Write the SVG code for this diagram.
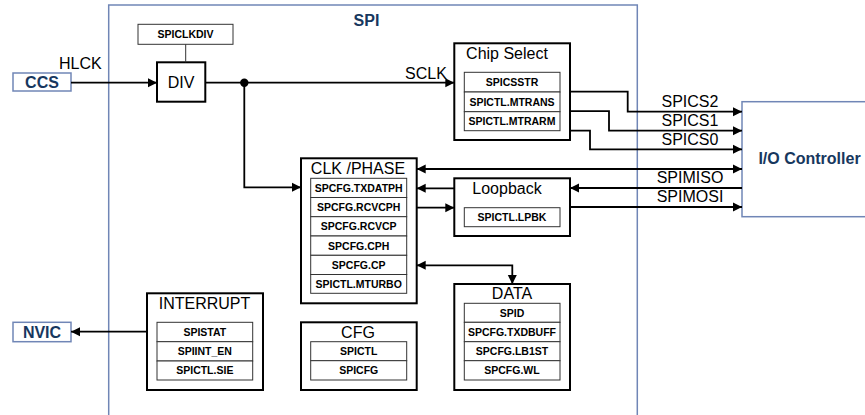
<svg xmlns="http://www.w3.org/2000/svg" width="865" height="415" viewBox="0 0 865 415">
<style>
  .outer{fill:#fff;stroke:#000;stroke-width:2}
  .cell{fill:#fff;stroke:#333;stroke-width:1}
  .ext{fill:#fff;stroke:#7086b6;stroke-width:1.5}
  .spi{fill:none;stroke:#7086b6;stroke-width:1.5}
  .title{font-family:"Liberation Sans",Arial,sans-serif;font-size:16px;fill:#000;text-anchor:middle}
  .reg{font-family:"Liberation Sans",Arial,sans-serif;font-size:10.5px;font-weight:bold;fill:#000;text-anchor:middle}
  .lbl{font-family:"Liberation Sans",Arial,sans-serif;font-size:16px;fill:#000}
  .blue{font-family:"Liberation Sans",Arial,sans-serif;font-size:16px;font-weight:bold;fill:#17375e;text-anchor:middle}
  .wire{fill:none;stroke:#000;stroke-width:1.8}
  .thin{fill:none;stroke:#333;stroke-width:1}
</style>
<defs>
  <marker id="ah" markerUnits="userSpaceOnUse" markerWidth="10" markerHeight="10" viewBox="0 0 10 10" refX="9" refY="5" orient="auto-start-reverse">
    <path d="M0,0.5 L9,5 L0,9.5 Z" fill="#000"/>
  </marker>
</defs>

<rect id="spi-box" class="spi" x="108.7" y="5" width="528.6" height="430"/>
<text class="blue" x="366.5" y="25.7">SPI</text>

<g id="ccs">
  <rect class="ext" x="13" y="73" width="58" height="18"/>
  <text class="blue" x="42" y="88">CCS</text>
</g>
<g id="nvic">
  <rect class="ext" x="13" y="322.3" width="58" height="19.4"/>
  <text class="blue" x="42" y="337.8">NVIC</text>
</g>
<g id="io-controller">
  <rect class="ext" x="742" y="101.7" width="140" height="115"/>
  <text class="blue" x="809.5" y="164">I/O Controller</text>
</g>

<g id="spiclkdiv">
  <rect class="cell" x="138" y="24.3" width="95" height="20"/>
  <text class="reg" x="185.5" y="38">SPICLKDIV</text>
</g>
<g id="div">
  <rect class="outer" x="157" y="62.3" width="48.3" height="39.4"/>
  <text class="title" x="181" y="88.3">DIV</text>
</g>

<g id="chip-select">
  <rect class="outer" x="454.3" y="43.3" width="115.7" height="96.7"/>
  <text class="title" x="507" y="59">Chip Select</text>
  <rect class="cell" x="464.3" y="72.3" width="95.7" height="19.7"/>
  <rect class="cell" x="464.3" y="92" width="95.7" height="19.7"/>
  <rect class="cell" x="464.3" y="111.7" width="95.7" height="19"/>
  <text class="reg" x="512" y="86">SPICSSTR</text>
  <text class="reg" x="512" y="105.6">SPICTL.MTRANS</text>
  <text class="reg" x="512" y="125">SPICTL.MTRARM</text>
</g>

<g id="clk-phase">
  <rect class="outer" x="301" y="158.3" width="115.7" height="145"/>
  <text class="title" x="358" y="174.3">CLK /PHASE</text>
  <rect class="cell" x="310.7" y="178.3" width="96" height="19.2"/>
  <rect class="cell" x="310.7" y="197.5" width="96" height="19.2"/>
  <rect class="cell" x="310.7" y="216.7" width="96" height="19.3"/>
  <rect class="cell" x="310.7" y="236" width="96" height="19.3"/>
  <rect class="cell" x="310.7" y="255.3" width="96" height="19.2"/>
  <rect class="cell" x="310.7" y="274.5" width="96" height="18.8"/>
  <text class="reg" x="358.7" y="191.7">SPCFG.TXDATPH</text>
  <text class="reg" x="358.7" y="210.9">SPCFG.RCVCPH</text>
  <text class="reg" x="358.7" y="230.2">SPCFG.RCVCP</text>
  <text class="reg" x="358.7" y="249.5">SPCFG.CPH</text>
  <text class="reg" x="358.7" y="268.7">SPCFG.CP</text>
  <text class="reg" x="358.7" y="287.7">SPICTL.MTURBO</text>
</g>

<g id="loopback">
  <rect class="outer" x="454.3" y="178.3" width="115.7" height="57.7"/>
  <text class="title" x="507" y="194">Loopback</text>
  <rect class="cell" x="464.3" y="207.7" width="95.7" height="19"/>
  <text class="reg" x="512" y="221">SPICTL.LPBK</text>
</g>

<g id="data">
  <rect class="outer" x="454.3" y="284" width="115.7" height="106"/>
  <text class="title" x="512" y="299">DATA</text>
  <rect class="cell" x="464.3" y="303.3" width="95.7" height="19"/>
  <rect class="cell" x="464.3" y="322.3" width="95.7" height="19.4"/>
  <rect class="cell" x="464.3" y="341.7" width="95.7" height="19"/>
  <rect class="cell" x="464.3" y="360.7" width="95.7" height="19.3"/>
  <text class="reg" x="512" y="316.6">SPID</text>
  <text class="reg" x="512" y="335.8">SPCFG.TXDBUFF</text>
  <text class="reg" x="512" y="355">SPCFG.LB1ST</text>
  <text class="reg" x="512" y="374.2">SPCFG.WL</text>
</g>

<g id="cfg">
  <rect class="outer" x="301" y="322.3" width="115.7" height="67.7"/>
  <text class="title" x="358" y="338.3">CFG</text>
  <rect class="cell" x="310.7" y="341.7" width="96" height="19"/>
  <rect class="cell" x="310.7" y="360.7" width="96" height="19.3"/>
  <text class="reg" x="358.7" y="355">SPICTL</text>
  <text class="reg" x="358.7" y="374.2">SPICFG</text>
</g>

<g id="interrupt">
  <rect class="outer" x="147" y="293.3" width="116" height="96.7"/>
  <text class="title" x="204.5" y="308.5">INTERRUPT</text>
  <rect class="cell" x="157" y="322.3" width="95.7" height="19.4"/>
  <rect class="cell" x="157" y="341.7" width="95.7" height="19.3"/>
  <rect class="cell" x="157" y="361" width="95.7" height="19"/>
  <text class="reg" x="204.8" y="335.8">SPISTAT</text>
  <text class="reg" x="204.8" y="355.1">SPIINT_EN</text>
  <text class="reg" x="204.8" y="374.3">SPICTL.SIE</text>
</g>

<g id="connectors">
  <line class="thin" x1="185.7" y1="44.3" x2="185.7" y2="62.3"/>
  <line class="wire" x1="71" y1="82.7" x2="157" y2="82.7" marker-end="url(#ah)"/>
  <line class="wire" x1="205.3" y1="82.7" x2="454.3" y2="82.7" marker-end="url(#ah)"/>
  <circle cx="244.3" cy="82.7" r="4.2" fill="#000"/>
  <polyline class="wire" points="244.3,82.7 244.3,187.3 301,187.3" marker-end="url(#ah)"/>
  <polyline class="wire" points="570,91.7 627.7,91.7 627.7,111.7 742,111.7" marker-end="url(#ah)"/>
  <polyline class="wire" points="570,111.2 609,111.2 609,130.7 742,130.7" marker-end="url(#ah)"/>
  <polyline class="wire" points="570,130.7 590,130.7 590,149.3 742,149.3" marker-end="url(#ah)"/>
  <line class="wire" x1="416.7" y1="169" x2="742" y2="169" marker-start="url(#ah)" marker-end="url(#ah)"/>
  <line class="wire" x1="742" y1="188" x2="570" y2="188" marker-end="url(#ah)"/>
  <line class="wire" x1="570" y1="207" x2="742" y2="207" marker-end="url(#ah)"/>
  <line class="wire" x1="454.3" y1="188.3" x2="416.7" y2="188.3" marker-end="url(#ah)"/>
  <line class="wire" x1="416.7" y1="207.7" x2="454.3" y2="207.7" marker-end="url(#ah)"/>
  <polyline class="wire" points="416.7,265.3 512.3,265.3 512.3,284" marker-start="url(#ah)" marker-end="url(#ah)"/>
  <line class="wire" x1="147" y1="331.7" x2="71" y2="331.7" marker-end="url(#ah)"/>
  <text class="lbl" x="59" y="69">HLCK</text>
  <text class="lbl" x="405" y="79">SCLK</text>
  <text class="lbl" x="661.5" y="106.7">SPICS2</text>
  <text class="lbl" x="661.5" y="125.7">SPICS1</text>
  <text class="lbl" x="661.5" y="145">SPICS0</text>
  <text class="lbl" x="656.7" y="183">SPIMISO</text>
  <text class="lbl" x="656.7" y="202">SPIMOSI</text>
</g>
</svg>
